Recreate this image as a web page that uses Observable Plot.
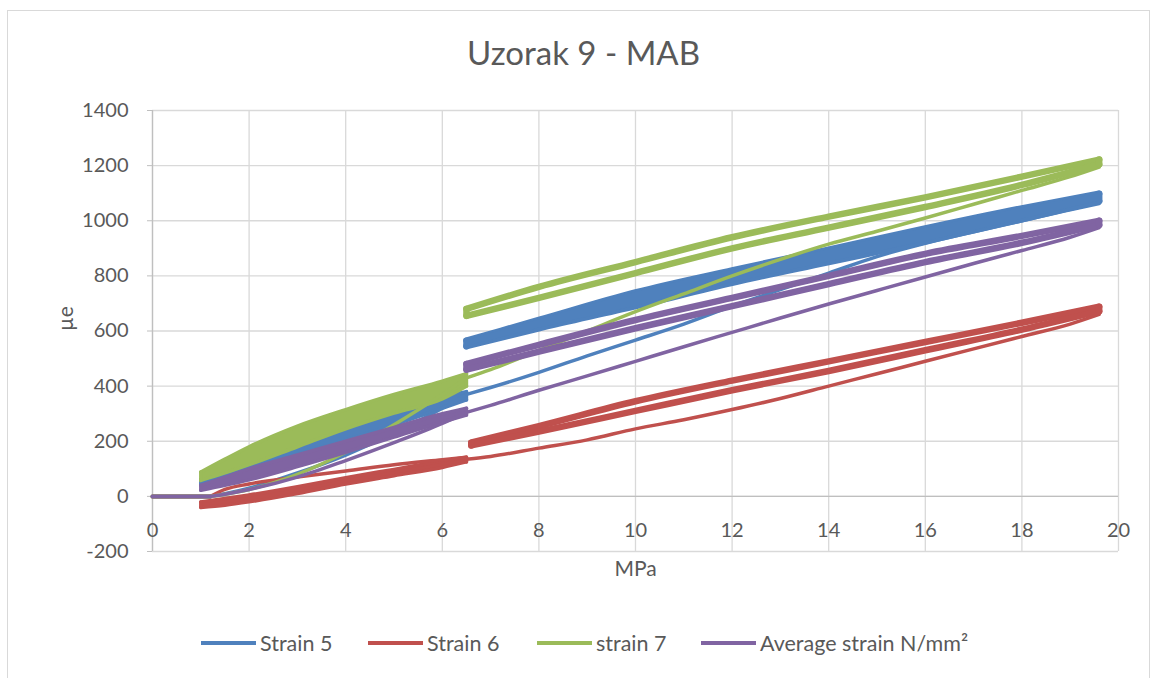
<!DOCTYPE html>
<html>
<head>
<meta charset="utf-8">
<script src="https://cdn.jsdelivr.net/npm/d3@7"></script>
<script src="https://cdn.jsdelivr.net/npm/@observablehq/plot@0.6"></script>
<style>
  body { margin: 0; background: #fff; font-family: Lato, "Open Sans", sans-serif; }
  #wrap { position: relative; width: 1159px; height: 678px; overflow: hidden; background: #fff; }
  #border { position: absolute; left: 7px; top: 10px; width: 1143px; height: 700px; border: 1.3px solid #d9d9d9; box-sizing: border-box; }
  #title { position: absolute; left: 0; width: 1167px; top: 36px; text-align: center; font-size: 33px; line-height: 33px; color: #595959; }
  #chart { position: absolute; left: 0; top: 95px; }
  .lg { position: absolute; top: 632px; height: 22px; display: flex; align-items: center; font-size: 21.5px; line-height: 22px; color: #595959; }
  .sw { width: 55px; height: 4px; margin-right: 4px; }
</style>
</head>
<body>
<div id="wrap">
  <div id="border"></div>
  <div id="title"></div>
  <div id="chart"></div>
  <div id="legend"></div>
</div>
<script>
// ---- Labels, ticks ----
const chartTitle = "Uzorak 9 - MAB";
const xLabel = "MPa";
const yLabel = "µe";
const seriesNames = ["Strain 5", "Strain 6", "strain 7", "Average strain N/mm²"];
const seriesColors = ["#4F81BD", "#C0504D", "#9BBB59", "#8064A2"];
const xTicks = [0, 2, 4, 6, 8, 10, 12, 14, 16, 18, 20];
const yTicks = [-200, 0, 200, 400, 600, 800, 1000, 1200, 1400];

// ---- Strain 5 (blue) [MPa, µe] ----
const s5Preload   = [[0,0],[1,0],[1.2,0]];
const s5Load1     = [[1.2,0],[1.5,10],[2,30],[3,85],[4,150],[5,230],[6,320],[6.5,370]];
const s5Loop1Up   = [[1,62],[1.5,97],[2,130],[3,195],[4,255],[5,310],[6,362],[6.5,380]];
const s5Loop1Down = [[1,42],[1.5,66],[2,92],[3,150],[4,205],[5,260],[6,320],[6.5,350]];
const s5Load2     = [[6.5,370],[7,395],[8,450],[9,510],[10,567],[11,625],[12,690],[13,750],[14,810],[15,870],[16,918],[17,960],[18,1000],[19,1040],[19.6,1062]];
const s5Loop2Up   = [[6.5,565],[8,640],[10,740],[12,820],[14,895],[16,972],[18,1045],[19.6,1098]];
const s5Loop2Down = [[6.5,545],[8,610],[10,690],[12,775],[14,850],[16,925],[18,1005],[19.6,1072]];

// ---- Strain 6 (red) ----
const s6Preload   = [[0,0],[1,0],[1.2,0]];
const s6Load1     = [[1.2,0],[1.5,25],[2,45],[3,70],[4,92],[5,115],[6,133],[6.5,142]];
const s6Loop1Up   = [[1,-20],[1.5,-8],[2,5],[3,35],[4,68],[5,98],[6,128],[6.5,142]];
const s6Loop1Down = [[1,-40],[1.5,-32],[2,-20],[3,10],[4,45],[5,75],[6,105],[6.5,125]];
const s6Load2     = [[6.5,135],[7,145],[8,175],[9,205],[10,245],[11,278],[12,315],[13,355],[14,400],[15,445],[16,490],[17,535],[18,580],[19,625],[19.6,660]];
const s6Loop2Up   = [[6.6,195],[8,255],[10,345],[12,420],[14,490],[16,560],[18,630],[19.6,688]];
const s6Loop2Down = [[6.6,185],[8,235],[10,310],[12,385],[14,455],[16,530],[18,605],[19.6,672]];

// ---- strain 7 (green) ----
const s7Preload   = [[0,0],[1,0],[1.2,0]];
const s7Load1     = [[1.2,0],[1.5,8],[2,25],[3,80],[4,160],[5,260],[6,370],[6.5,430]];
const s7Loop1Up   = [[1,88],[1.5,135],[2,180],[3,255],[4,315],[5,370],[6,418],[6.5,445]];
const s7Loop1Down = [[1,58],[1.5,85],[2,115],[3,180],[4,245],[5,302],[6,354],[6.5,400]];
const s7Load2     = [[6.5,430],[7,460],[8,530],[9,600],[10,670],[11,735],[12,800],[13,860],[14,915],[15,962],[16,1010],[17,1060],[18,1110],[19,1160],[19.6,1195]];
const s7Loop2Up   = [[6.5,680],[8,760],[10,850],[12,940],[14,1015],[16,1085],[18,1160],[19.6,1222]];
const s7Loop2Down = [[6.5,655],[8,720],[10,810],[12,900],[14,975],[16,1050],[18,1130],[19.6,1205]];

// ---- Average strain (purple) ----
const avPreload   = [[0,0],[1,0],[1.2,0]];
const avLoad1     = [[1.2,0],[1.5,8],[2,25],[3,70],[4,130],[5,195],[6,265],[6.5,305]];
const avLoop1Up   = [[1,40],[1.5,70],[2,100],[3,150],[4,200],[5,250],[6,300],[6.5,320]];
const avLoop1Down = [[1,22],[1.5,40],[2,60],[3,108],[4,160],[5,215],[6,270],[6.5,295]];
const avLoad2     = [[6.5,305],[7,330],[8,385],[9,437],[10,490],[11,543],[12,595],[13,647],[14,698],[15,747],[16,796],[17,845],[18,892],[19,940],[19.6,975]];
const avLoop2Up   = [[6.5,480],[8,550],[10,640],[12,720],[14,800],[16,880],[18,945],[19.6,1000]];
const avLoop2Down = [[6.5,460],[8,525],[10,610],[12,690],[14,770],[16,850],[18,920],[19.6,985]];

const seriesData = [
  {pre: s5Preload, l1: s5Load1, u1: s5Loop1Up, d1: s5Loop1Down, l2: s5Load2, u2: s5Loop2Up, d2: s5Loop2Down},
  {pre: s6Preload, l1: s6Load1, u1: s6Loop1Up, d1: s6Loop1Down, l2: s6Load2, u2: s6Loop2Up, d2: s6Loop2Down},
  {pre: s7Preload, l1: s7Load1, u1: s7Loop1Up, d1: s7Loop1Down, l2: s7Load2, u2: s7Loop2Up, d2: s7Loop2Down},
  {pre: avPreload, l1: avLoad1, u1: avLoop1Up, d1: avLoop1Down, l2: avLoad2, u2: avLoop2Up, d2: avLoop2Down}
];

function band(up, down) {
  return down.map((d, i) => ({x: d[0], y1: d[1], y2: up[i][1]}));
}
function ends(up, down) {
  const n = up.length - 1;
  return [{x: down[0][0], y1: down[0][1], y2: up[0][1]}, {x: down[n][0], y1: down[n][1], y2: up[n][1]}];
}

const marks = [
  Plot.gridX(xTicks, {stroke: "#d9d9d9", strokeOpacity: 1, strokeWidth: 1.3}),
  Plot.gridY(yTicks, {stroke: "#d9d9d9", strokeOpacity: 1, strokeWidth: 1.3}),
  Plot.ruleX([0], {stroke: "#bfbfbf", strokeWidth: 1.3}),
  Plot.ruleY([0], {stroke: "#bfbfbf", strokeWidth: 1.3}),
  Plot.axisY(yTicks, {tickSize: 5, tickPadding: 19, fontSize: 20, fill: "#595959", stroke: "#bfbfbf", label: null, tickFormat: d => String(d)}),
  Plot.axisX(xTicks, {anchor: "bottom", tickSize: 0, dy: -38, fontSize: 20, fill: "#595959", label: null, tickFormat: d => String(d)}),
  Plot.text([xLabel], {frameAnchor: "bottom", dy: 24, fontSize: 21, fill: "#595959"}),
  Plot.text([yLabel], {frameAnchor: "left", dx: -86, rotate: -90, fontSize: 21, fill: "#595959"})
];

const curve = "monotone-x";
seriesData.forEach((s, i) => {
  const c = seriesColors[i];
  const solid2 = i === 0; // Strain 5 upper cycles appear as a filled band
  marks.push(
    Plot.areaY(band(s.u1, s.d1), {x: "x", y1: "y1", y2: "y2", fill: c, curve}),
    Plot.line(s.u1, {stroke: c, strokeWidth: 3.5, curve, strokeLinecap: "round"}),
    Plot.line(s.d1, {stroke: c, strokeWidth: 3.5, curve, strokeLinecap: "round"}),
    Plot.link(ends(s.u1, s.d1), {x1: "x", x2: "x", y1: "y1", y2: "y2", stroke: c, strokeWidth: 3.5, strokeLinecap: "round"}),
    Plot.line(s.pre, {stroke: c, strokeWidth: 4}),
    Plot.line(s.l1, {stroke: c, strokeWidth: 3.5, curve, strokeLinecap: "round"}),
    Plot.line(s.l2, {stroke: c, strokeWidth: 3.5, curve, strokeLinecap: "round"}),
    Plot.line(s.u2, {stroke: c, strokeWidth: 6.5, curve, strokeLinecap: "round"}),
    Plot.line(s.d2, {stroke: c, strokeWidth: 6.5, curve, strokeLinecap: "round"}),
    Plot.link(ends(s.u2, s.d2), {x1: "x", x2: "x", y1: "y1", y2: "y2", stroke: c, strokeWidth: 6.5, strokeLinecap: "round"})
  );
  if (solid2) marks.push(Plot.areaY(band(s.u2, s.d2), {x: "x", y1: "y1", y2: "y2", fill: c, curve}));
});

const plot = Plot.plot({
  width: 1159,
  height: 520,
  marginTop: 15,
  marginLeft: 152,
  marginRight: 41,
  marginBottom: 64,
  style: {fontFamily: "Lato, 'Open Sans', sans-serif", background: "transparent", overflow: "visible"},
  x: {domain: [0, 20]},
  y: {domain: [-200, 1400]},
  marks
});
document.getElementById("chart").appendChild(plot);

// title
document.getElementById("title").textContent = chartTitle;

// legend
const legendLeft = [201, 368, 537, 701];
const legend = document.getElementById("legend");
seriesNames.forEach((n, i) => {
  const item = document.createElement("div");
  item.className = "lg";
  item.style.left = legendLeft[i] + "px";
  const sw = document.createElement("div");
  sw.className = "sw";
  sw.style.background = seriesColors[i];
  const t = document.createElement("span");
  t.textContent = n;
  item.appendChild(sw);
  item.appendChild(t);
  legend.appendChild(item);
});
</script>
</body>
</html>
